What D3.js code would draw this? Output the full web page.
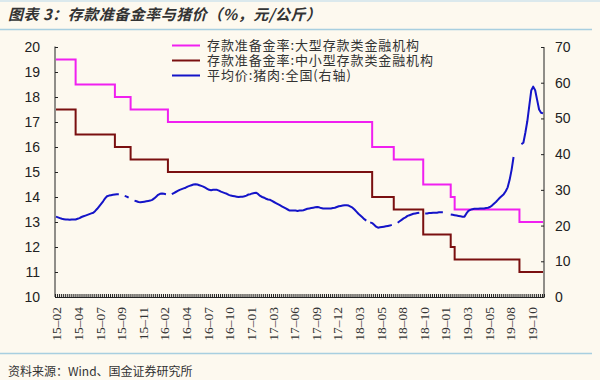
<!DOCTYPE html>
<html>
<head>
<meta charset="utf-8">
<script src="https://cdn.jsdelivr.net/npm/d3@7"></script>
<style>
  body { margin: 0; background: #fdf9ef; }
  svg { display: block; }
</style>
</head>
<body>
<svg id="chart" width="600" height="380"></svg>
<script>
// x-axis labels, one every 11 weekly categories
const tickLabels = ["15-02","15-04","15-07","15-09","15-11","16-02","16-04","16-07","16-10",
  "17-01","17-03","17-06","17-09","17-12","18-03","18-05","18-08","18-10",
  "19-01","19-03","19-05","19-08","19-10"];

// reserve ratio: week index where each level starts
const stepStart = [0, 10, 30, 38, 57, 161, 172, 187, 201, 203, 236];
const rrLarge = [19.5, 18.5, 18, 17.5, 17, 16, 15.5, 14.5, 14, 13.5, 13];
const rrSmall = [17.5, 16.5, 16, 15.5, 15, 14, 13.5, 12.5, 12, 11.5, 11];

// weekly pork price (yuan/kg), null = missing week
const pork = [
  22.5,22.3,22.1,21.9,21.8,21.7,21.7,21.6,21.7,21.7,21.7,
  21.9,22.1,22.4,22.6,22.8,23.0,23.2,23.4,23.6,24.1,
  24.7,25.4,26.1,26.8,27.6,28.2,28.4,28.5,28.6,28.7,
  28.8,28.8,null,null,28.3,28.1,27.8,null,null,27.0,
  26.8,26.6,26.5,26.6,26.7,26.8,26.9,27.0,27.2,27.6,
  28.1,28.6,28.9,29.0,28.9,28.8,null,null,28.8,29.1,
  29.4,29.7,30.0,30.2,30.4,30.6,30.9,31.1,31.3,31.5,
  31.6,31.5,31.3,31.1,30.9,30.6,30.3,30.0,29.9,30.0,
  30.0,30.0,29.8,29.5,29.3,29.1,28.9,28.6,28.4,28.3,
  28.2,28.1,28.0,28.1,28.1,28.2,28.4,28.7,28.8,29.0,
  29.1,29.2,28.8,28.3,28.0,27.8,27.5,27.3,27.2,26.9,
  26.6,26.3,26.0,25.7,25.4,25.1,24.8,24.5,24.2,24.2,
  24.2,24.2,24.1,24.2,24.2,24.3,24.5,24.7,24.8,24.9,
  25.0,25.1,25.2,25.1,24.9,24.8,24.8,24.8,24.8,24.8,
  24.9,25.0,25.2,25.4,25.5,25.6,25.7,25.7,25.6,25.3,
  25.0,24.5,23.9,23.3,22.8,22.3,21.8,21.4,null,20.9,
  20.7,20.2,19.7,19.4,19.5,19.6,19.7,19.8,19.9,20.0,
  20.2,null,null,20.8,21.2,21.6,22.0,22.3,22.7,22.9,
  23.1,23.3,23.4,23.5,23.6,null,null,23.4,23.4,23.5,
  23.5,23.6,23.6,23.6,23.7,23.7,23.7,null,null,null,
  23.1,23.0,22.9,22.8,22.7,22.6,22.5,22.5,23.4,24.1,
  24.4,24.6,24.7,24.7,24.7,24.8,24.8,24.8,24.9,25.0,
  25.2,25.6,26.1,26.6,27.2,27.8,28.3,28.8,29.6,30.7,
  32.8,35.6,39.2,null,null,null,42.8,43.2,46.0,49.2,
  53.5,57.8,58.9,57.9,55.2,52.5,51.6,51.4
];

const seriesNames = ["存款准备金率:大型存款类金融机构", "存款准备金率:中小型存款类金融机构", "平均价:猪肉:全国(右轴)"];
const seriesColors = ["#f020f0", "#7a1010", "#1414c8"];

const svg = d3.select("#chart");
const plotL = 55, plotR = 544, plotT = 47, plotB = 297;
const N = pork.length;

const x = d3.scaleBand().domain(d3.range(N)).range([plotL, plotR]);
const xEdge = d3.scaleLinear().domain([0, N]).range([plotL, plotR]);
const yL = d3.scaleLinear().domain([10, 20]).range([plotB, plotT]);
const yR = d3.scaleLinear().domain([0, 70]).range([plotB, plotT]);
const cx = i => x(i) + x.bandwidth() / 2;

// title + rules
svg.append("line").attr("x1", 0).attr("x2", 600).attr("y1", 1).attr("y2", 1)
  .attr("stroke", "#cfe3ec").attr("stroke-width", 1.5);
svg.append("text")
  .attr("x", 8).attr("y", 20)
  .attr("font-family", "'Noto Sans CJK SC', sans-serif")
  .attr("font-size", 15).attr("font-weight", "bold").attr("font-style", "italic")
  .attr("letter-spacing", 0.5)
  .attr("fill", "#333")
  .text("图表 3：存款准备金率与猪价（%，元/公斤）");
svg.append("line").attr("x1", 0).attr("x2", 592).attr("y1", 29.5).attr("y2", 29.5)
  .attr("stroke", "#a8cfe0").attr("stroke-width", 1.5);
svg.append("line").attr("x1", 0).attr("x2", 592).attr("y1", 353.5).attr("y2", 353.5)
  .attr("stroke", "#a8cfe0").attr("stroke-width", 1.5);
svg.append("text")
  .attr("x", 8).attr("y", 376)
  .attr("font-family", "'Noto Sans CJK SC', sans-serif")
  .attr("font-size", 12).attr("fill", "#333")
  .text("资料来源：Wind、国金证券研究所");

// axes
const axL = svg.append("g").attr("transform", `translate(${plotL},0)`)
  .call(d3.axisLeft(yL).ticks(10).tickSizeInner(-3).tickSizeOuter(0).tickPadding(15));
const axR = svg.append("g").attr("transform", `translate(${plotR},0)`)
  .call(d3.axisRight(yR).ticks(7).tickSizeInner(-3).tickSizeOuter(0).tickPadding(11));
const axB = svg.append("g").attr("transform", `translate(0,${plotB})`)
  .call(d3.axisBottom(xEdge).tickValues(d3.range(N + 1)).tickSizeInner(-3).tickSizeOuter(0).tickFormat(""));

[axL, axR, axB].forEach(g => {
  g.selectAll("path, line").attr("stroke", "#222");
  g.selectAll("text").attr("font-family", "'Liberation Sans', Arial, sans-serif")
    .attr("font-size", 14).attr("fill", "#222");
});
axL.select(".domain").attr("d", `M0,${plotT - 0.5}V${plotB}`);
axR.select(".domain").attr("d", `M0,${plotT}V${plotB}`);

// rotated category labels
svg.append("g").selectAll("text")
  .data(tickLabels)
  .join("text")
  .attr("transform", (d, k) => `translate(${cx(k * 11) + 5.5},307) rotate(-90)`)
  .attr("text-anchor", "end")
  .attr("font-family", "'Liberation Serif', 'Times New Roman', serif")
  .attr("font-size", 13.5).attr("fill", "#333")
  .text(d => d.replace("-", "\u2013"));

// step series
function stepPoints(vals) {
  const pts = stepStart.map((s, k) => [cx(s), yL(vals[k])]);
  pts.push([cx(N - 1), yL(vals[vals.length - 1])]);
  return pts;
}
const stepLine = d3.line().curve(d3.curveStepAfter);

svg.append("path").attr("d", stepLine(stepPoints(rrLarge)))
  .attr("fill", "none").attr("stroke", seriesColors[0]).attr("stroke-width", 2);
svg.append("path").attr("d", stepLine(stepPoints(rrSmall)))
  .attr("fill", "none").attr("stroke", seriesColors[1]).attr("stroke-width", 2);

const porkLine = d3.line()
  .defined(d => d != null)
  .x((d, i) => cx(i))
  .y(d => yR(d));
svg.append("path").attr("d", porkLine(pork))
  .attr("fill", "none").attr("stroke", seriesColors[2]).attr("stroke-width", 2)
  .attr("stroke-linejoin", "round");

// legend
const lg = svg.append("g").selectAll("g").data(seriesNames).join("g")
  .attr("transform", (d, k) => `translate(172,${45.5 + k * 15})`);
lg.append("line").attr("x1", 0).attr("x2", 28)
  .attr("stroke", (d, k) => seriesColors[k]).attr("stroke-width", 2);
lg.append("text").attr("x", 35).attr("dy", "0.35em")
  .attr("font-family", "'Noto Sans CJK SC', sans-serif")
  .attr("font-size", 13).attr("letter-spacing", 0.9).attr("fill", "#333")
  .text(d => d);
</script>
</body>
</html>
